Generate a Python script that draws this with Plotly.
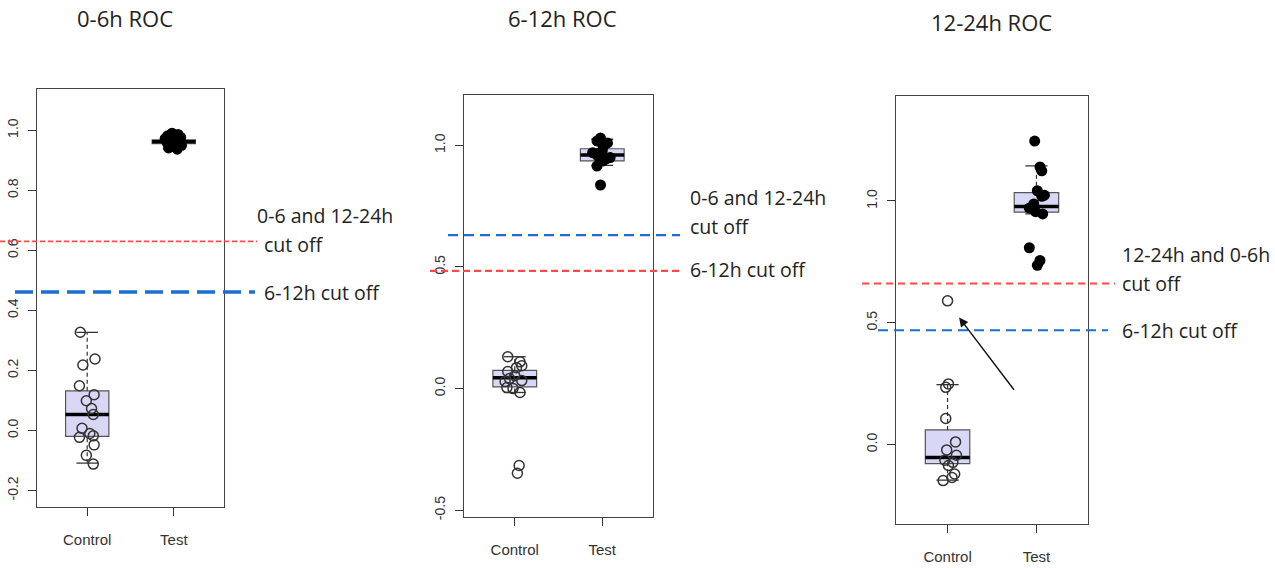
import plotly.graph_objects as go

W, H = 1275, 568

# ---------------- data ----------------
categories = ["Control", "Test"]
titles = ["0-6h ROC", "6-12h ROC", "12-24h ROC"]

# panel 1 (0-6h)
p1_control = [0.327, 0.238, 0.218, 0.149, 0.119, 0.099, 0.073, 0.053, 0.007, -0.010, -0.023, -0.018, -0.048, -0.083, -0.112]
p1_control_jit = [-0.08, 0.09, -0.05, -0.09, 0.08, -0.01, 0.05, 0.07, -0.06, 0.03, -0.09, 0.07, 0.08, -0.01, 0.07]
p1_test = [0.990, 0.986, 0.982, 0.976, 0.972, 0.968, 0.965, 0.962, 0.960, 0.957, 0.954, 0.950, 0.946, 0.941, 0.937]
p1_test_jit = [-0.02, 0.05, -0.07, 0.08, -0.10, 0.02, -0.04, 0.06, -0.08, 0.03, -0.05, 0.09, -0.02, -0.06, 0.04]
p1_stats = {"lw": [-0.109, 0.938], "q1": [-0.020, 0.955], "med": [0.053, 0.962], "q3": [0.132, 0.968], "uw": [0.327, 0.988]}
p1_cutoffs = {"red": 0.630, "blue": 0.461}
p1_ticks = [-0.2, 0.0, 0.2, 0.4, 0.6, 0.8, 1.0]

# panel 2 (6-12h)
p2_control = [0.131, 0.110, 0.094, 0.086, 0.070, 0.053, 0.041, 0.033, 0.029, 0.004, 0.000, -0.016, -0.316, -0.348]
p2_control_jit = [-0.08, 0.06, 0.08, 0.02, -0.08, 0.00, -0.06, 0.08, -0.11, -0.09, -0.02, 0.06, 0.05, 0.03]
p2_test = [1.030, 1.018, 1.010, 0.995, 0.977, 0.970, 0.965, 0.956, 0.950, 0.945, 0.936, 0.915, 0.837]
p2_test_jit = [-0.02, -0.06, 0.06, 0.01, 0.00, -0.11, -0.06, -0.05, 0.09, 0.05, 0.01, -0.06, -0.02]
p2_stats = {"lw": [-0.016, 0.918], "q1": [0.007, 0.936], "med": [0.045, 0.960], "q3": [0.075, 0.986], "uw": [0.131, 1.025]}
p2_cutoffs = {"red": 0.484, "blue": 0.631}
p2_ticks = [-0.5, 0.0, 0.5, 1.0]

# panel 3 (12-24h)
p3_control = [0.590, 0.249, 0.235, 0.107, 0.011, -0.022, -0.044, -0.064, -0.073, -0.086, -0.121, -0.135, -0.148]
p3_control_jit = [0.00, 0.01, -0.02, -0.02, 0.09, -0.01, 0.10, -0.03, 0.06, 0.01, 0.08, 0.05, -0.05]
p3_test = [1.246, 1.140, 1.124, 1.042, 1.024, 1.019, 0.988, 0.971, 0.956, 0.947, 0.808, 0.756, 0.736]
p3_test_jit = [-0.02, 0.04, 0.06, 0.01, 0.09, 0.06, -0.03, -0.08, -0.01, 0.07, -0.08, 0.04, 0.01]
p3_stats = {"lw": [-0.146, 0.947], "q1": [-0.078, 0.954], "med": [-0.053, 0.977], "q3": [0.060, 1.034], "uw": [0.246, 1.144]}
p3_cutoffs = {"red": 0.661, "blue": 0.469}
p3_ticks = [0.0, 0.5, 1.0]

# ---------------- layout constants (pixels) ----------------
panels = [
    dict(ax="", frame=(37, 224, 89, 510), yrange=[-0.256, 1.139],
         control=p1_control, cj=p1_control_jit, test=p1_test, tj=p1_test_jit,
         stats=p1_stats, cut=p1_cutoffs, ticks=p1_ticks, tfmt="{:.1f}",
         red=dict(x=(0, 257), width=1.6, dash="5px,3px"),
         blue=dict(x=(15, 255), width=3.5, dash="18px,8px"),
         title=(125, 18),
         texts=[("0-6 and 12-24h", 255, 217), ("cut off", 262, 246), ("6-12h cut off", 262, 294)]),
    dict(ax="2", frame=(464, 653, 96, 520), yrange=[-0.529, 1.205],
         control=p2_control, cj=p2_control_jit, test=p2_test, tj=p2_test_jit,
         stats=p2_stats, cut=p2_cutoffs, ticks=p2_ticks, tfmt="{:.1f}",
         red=dict(x=(430, 683), width=2.4, dash="7px,4px"),
         blue=dict(x=(448, 680), width=2.4, dash="10px,6px"),
         title=(562, 18),
         texts=[("0-6 and 12-24h", 688, 199), ("cut off", 688, 228), ("6-12h cut off", 688, 271)]),
    dict(ax="3", frame=(896, 1088, 97, 527), yrange=[-0.327, 1.429],
         control=p3_control, cj=p3_control_jit, test=p3_test, tj=p3_test_jit,
         stats=p3_stats, cut=p3_cutoffs, ticks=p3_ticks, tfmt="{:.1f}",
         red=dict(x=(862, 1115), width=2.0, dash="7px,5px"),
         blue=dict(x=(878, 1108), width=2.0, dash="10px,6px"),
         title=(991, 22),
         texts=[("12-24h and 0-6h", 1120, 256), ("cut off", 1120, 285), ("6-12h cut off", 1120, 332)]),
]

RED = "rgb(255,72,72)"
BLUE = "rgb(28,110,208)"
BOXFILL = "#d8d8f6"
BOXLINE = "#555555"
INK = "#222222"
box_half = 0.25
staple_half = 0.125
positions = [1, 2]

fig = go.Figure()
layout = dict(width=W, height=H, margin=dict(l=0, r=0, t=0, b=0),
              paper_bgcolor="white", plot_bgcolor="white", showlegend=False)
shapes = []
annotations = []

def px_x(x):
    return x / W

def px_y(y):
    return 1 - y / H

for k, p in enumerate(panels):
    xa = "x" + p["ax"]
    ya = "y" + p["ax"]
    x0, x1, y0, y1 = p["frame"]
    st = p["stats"]

    # boxes (no whiskers; whiskers drawn dashed below)
    fig.add_trace(go.Box(x=positions, q1=st["q1"], median=st["med"], q3=st["q3"],
                         lowerfence=st["q1"], upperfence=st["q3"], width=2 * box_half,
                         fillcolor=BOXFILL, line=dict(color=BOXLINE, width=1.2),
                         boxpoints=False, xaxis=xa, yaxis=ya, hoverinfo="skip"))
    wx, wy, sx, sy, mx, my = [], [], [], [], [], []
    for i, pos in enumerate(positions):
        wx += [pos, pos, None, pos, pos, None]
        wy += [st["lw"][i], st["q1"][i], None, st["q3"][i], st["uw"][i], None]
        sx += [pos - staple_half, pos + staple_half, None, pos - staple_half, pos + staple_half, None]
        sy += [st["lw"][i], st["lw"][i], None, st["uw"][i], st["uw"][i], None]
        mx += [pos - box_half, pos + box_half, None]
        my += [st["med"][i], st["med"][i], None]
    fig.add_trace(go.Scatter(x=wx, y=wy, mode="lines", xaxis=xa, yaxis=ya, hoverinfo="skip",
                             line=dict(color="#333333", width=1.2, dash="4px,3px")))
    fig.add_trace(go.Scatter(x=sx, y=sy, mode="lines", xaxis=xa, yaxis=ya, hoverinfo="skip",
                             line=dict(color="#333333", width=1.3)))
    fig.add_trace(go.Scatter(x=mx, y=my, mode="lines", xaxis=xa, yaxis=ya, hoverinfo="skip",
                             line=dict(color="black", width=3.5)))
    fig.add_trace(go.Scatter(x=[positions[0] + j for j in p["cj"]], y=p["control"], mode="markers",
                             xaxis=xa, yaxis=ya, hoverinfo="skip",
                             marker=dict(symbol="circle-open", size=10, color="#333333",
                                         line=dict(width=1.5, color="#333333"))))
    fig.add_trace(go.Scatter(x=[positions[1] + j for j in p["tj"]], y=p["test"], mode="markers",
                             xaxis=xa, yaxis=ya, hoverinfo="skip",
                             marker=dict(symbol="circle", size=11, color="black")))

    axis_common = dict(showgrid=False, zeroline=False, showline=True, mirror=True,
                       linecolor="#444444", linewidth=1, ticks="outside", ticklen=8,
                       tickcolor="#333333", tickwidth=1, fixedrange=True)
    layout["xaxis" + p["ax"]] = dict(axis_common, domain=[px_x(x0), px_x(x1)], range=[0.42, 2.58],
                                     anchor=ya, tickvals=positions, ticktext=categories,
                                     tickfont=dict(family="Liberation Sans", size=15, color="#333333"),
                                     ticklabelstandoff=11)
    layout["yaxis" + p["ax"]] = dict(axis_common, domain=[px_y(y1), px_y(y0)], range=p["yrange"],
                                     anchor=xa, tickvals=p["ticks"],
                                     ticktext=[p["tfmt"].format(t) for t in p["ticks"]],
                                     tickangle=-90, ticklabelstandoff=4,
                                     tickfont=dict(family="Liberation Sans", size=14, color="#333333"))

    for key, col in (("red", RED), ("blue", BLUE)):
        spec = p[key]
        shapes.append(dict(type="line", xref="paper", yref=ya,
                           x0=px_x(spec["x"][0]), x1=px_x(spec["x"][1]),
                           y0=p["cut"][key], y1=p["cut"][key],
                           line=dict(color=col, width=spec["width"], dash=spec["dash"])))

    tx, ty = p["title"]
    annotations.append(dict(text=titles[k], xref="paper", yref="paper",
                            x=px_x(tx), y=px_y(ty), xanchor="center", yanchor="middle",
                            showarrow=False, font=dict(family="Open Sans", size=22, color=INK)))
    for txt, lx, ly in p["texts"]:
        annotations.append(dict(text=txt, xref="paper", yref="paper", x=px_x(lx), y=px_y(ly),
                                xanchor="left", yanchor="middle", showarrow=False,
                                font=dict(family="Open Sans", size=19.5, color=INK)))

annotations.append(dict(x=1.13, y=0.522, xref="x3", yref="y3", ax=1.76, ay=0.219,
                        axref="x3", ayref="y3", text="", showarrow=True, arrowhead=2,
                        arrowsize=1.3, arrowwidth=1.4, arrowcolor="#111111"))

layout["shapes"] = shapes
layout["annotations"] = annotations
fig.update_layout(**layout)
fig.write_html("out.html", config={"displayModeBar": False},
               post_script="document.body.style.margin='0px';document.body.style.padding='0px';")
